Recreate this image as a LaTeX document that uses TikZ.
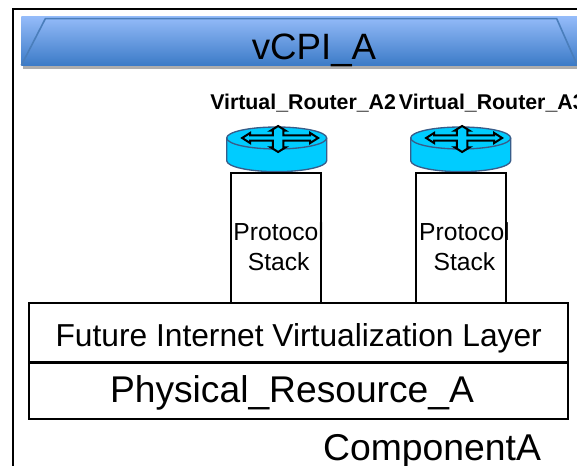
\documentclass[tikz,border=0pt]{standalone}
\usepackage{fontspec}
\setmainfont{Liberation Sans}
\usetikzlibrary{positioning,arrows.meta}
\definecolor{bannerTop}{HTML}{94BBF9}
\definecolor{bannerBottom}{HTML}{3C7BC7}
\definecolor{bannerLine}{HTML}{4A7EBB}
\definecolor{routerFill}{HTML}{00CCFF}
\definecolor{routerLine}{HTML}{385D8A}
\tikzstyle{stack}=[draw,line width=1.5pt,minimum width=68pt,minimum height=97pt,inner sep=0pt]
\tikzstyle{stacktext}=[inner sep=0pt,align=center,font=\fontsize{18.5}{22.5}\selectfont]
\tikzstyle{layer}=[draw,line width=1.5pt,minimum width=404pt,inner sep=0pt]
\tikzstyle{routerlabel}=[font=\fontsize{16}{19}\selectfont\bfseries,inner sep=0pt,anchor=base west]
\newcommand{\newRouter}[2]{
    \fill[routerFill,draw=routerLine,line width=1pt] (#1,#2) -- ++(0,-17) arc[start angle=180,end angle=360,x radius=37.5,y radius=8.25] -- ++(0,17) arc[start angle=0,end angle=180,x radius=37.5,y radius=8.25] -- cycle;
    \draw[routerLine,line width=1pt] (#1,#2) arc[start angle=180,end angle=360,x radius=37.5,y radius=8.25];
    \draw[line width=1.5pt,fill=routerFill,line join=miter] (#1+11.6,#2) -- ++(6,3.8) -- ++(0,-1.8) -- ++(17,0) -- ++(0,3.5) -- ++(-1.6,0) -- ++(5.6,3.5) -- ++(5.6,-3.5) -- ++(-1.6,0) -- ++(0,-3.5) -- ++(20,0) -- ++(0,1.8) -- ++(6,-3.8) -- ++(-6,-3.8) -- ++(0,1.8) -- ++(-20,0) -- ++(0,-5) -- ++(1.6,0) -- ++(-5.6,-3.5) -- ++(-5.6,3.5) -- ++(1.6,0) -- ++(0,5) -- ++(-17,0) -- ++(0,-1.8) -- cycle;
}
\begin{document}
\begin{tikzpicture}[x=1pt,y=1pt,line cap=butt]
    \useasboundingbox (0,0) rectangle (432.75,349.5);
    \clip (0,0) rectangle (432.75,349.5);
    % outer frame
    \draw[line width=1.5pt] (9.5,-5) -- (9.5,342.75) -- (440,342.75);
    % banner
    \fill[black!32] (17,297.5) rectangle (440,303);
    \fill[top color=bannerTop,bottom color=bannerBottom] (16,300.5) rectangle (433,337);
    \draw[bannerLine,line width=1.2pt] (16,300.5) -- (34,335.5) -- (417.5,335.5) -- (433,300.5);
    \node[inner sep=0pt,font=\fontsize{27.5}{33}\selectfont] (title) at (235.5,311.5) {vCPI\_A};
    % routers
    \newRouter{170}{246}
    \newRouter{308}{246}
    \node[routerlabel] (labelA2) at (157.5,267) {Virtual\_Router\_A2};
    \node[routerlabel] (labelA3) at (299,267) {Virtual\_Router\_A3};
    % stacks
    \node[stack] (stackA2) at (207,171) {};
    \node[stack] (stackA3) at (345.75,171) {};
    \node[stacktext] (textA2) at ([xshift=2pt,yshift=-6.4pt]stackA2.center) {Protocol\\Stack};
    \node[stacktext] (textA3) at ([xshift=2.6pt,yshift=-6.4pt]stackA3.center) {Protocol\\Stack};
    % layers
    \node[layer,minimum height=44pt,font=\fontsize{23.8}{28}\selectfont] (virt) at (224,100) {\raisebox{-10.5pt}[0pt][0pt]{Future Internet Virtualization Layer}};
    \node[layer,minimum height=42pt,below=-0.75pt of virt,font=\fontsize{27.9}{33}\selectfont] (phys) {\raisebox{-9pt}[0pt][0pt]{\hspace*{-10pt}Physical\_Resource\_A}};
    \node[inner sep=0pt,anchor=north,font=\fontsize{28}{33}\selectfont] (comp) at ([xshift=100pt,yshift=-10.5pt]phys.south) {ComponentA};
\end{tikzpicture}
\end{document}
